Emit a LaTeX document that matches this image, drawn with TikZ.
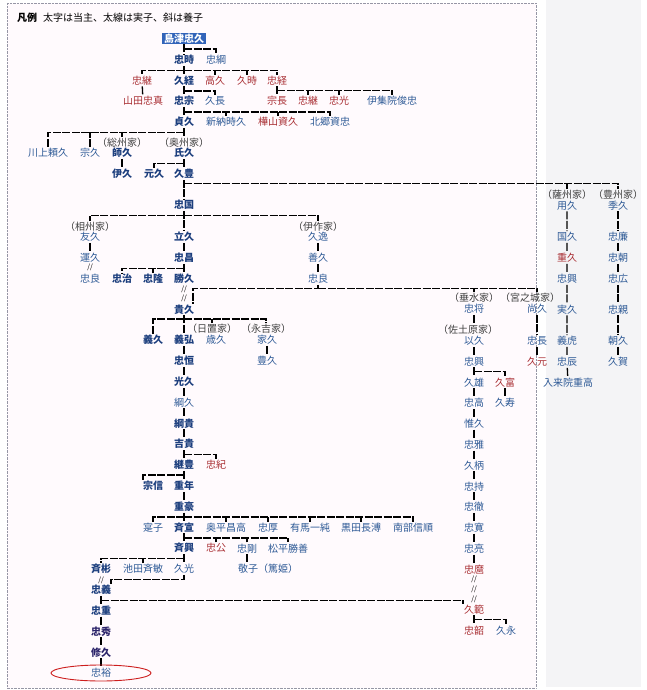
\documentclass[tikz,border=0pt]{standalone}
\usepackage{fontspec}
\setmainfont{Noto Sans CJK JP}
\definecolor{kblue}{RGB}{46,90,150}
\definecolor{kbold}{RGB}{28,62,125}
\definecolor{knavy}{RGB}{42,34,105}
\definecolor{kred}{RGB}{168,45,50}
\definecolor{kbox}{RGB}{50,100,185}
\definecolor{kpanel}{RGB}{244,244,246}
\definecolor{kframe}{RGB}{150,150,165}
\definecolor{kring}{RGB}{205,30,30}
\begin{document}
\begin{tikzpicture}[x=1pt,y=-1pt,node distance=20.8pt,
    nm/.style={inner sep=1pt,font=\fontsize{10}{10}\selectfont,text=kblue},
    hd/.style={nm,font=\fontsize{10}{10}\selectfont\bfseries,text=kbold},
    rd/.style={nm,text=kred},
    ie/.style={nm,text=black!75},
    yo/.style={inner sep=0pt,font=\fontsize{7}{7}\selectfont},
    ln/.style={line width=1.3pt,dash pattern=on 8pt off 1.5pt}]

    \useasboundingbox (0,0) rectangle (647,690);
    \fill[kpanel] (546,0) rectangle (641,687);
    \fill[white!98!magenta] (7,3) rectangle (536,688);
    \draw[kframe,densely dotted] (7,3) rectangle (536,688);

    \node[anchor=west,inner sep=0pt,font=\fontsize{10}{10}\selectfont\bfseries] (hanrei) at (17,18) {凡例};
    \node[anchor=west,inner sep=0pt,font=\fontsize{10}{10}\selectfont] (rei) at (43,18) {太字は当主、太線は実子、斜は養子};

    \node[fill=kbox,text=white,inner xsep=2pt,inner ysep=1pt,font=\fontsize{10}{10}\selectfont\bfseries] (tadahisa) at (184,38.5) {島津忠久};
    \node[hd] (tadatoki) at (184,60) {忠時};
    \node[nm] (tadatsuna) at (216,60) {忠綱};
    \node[rd] (tadatsugu) at (142,80.5) {忠継};
    \node[hd] (hisatsune) at (184,80.5) {久経};
    \node[rd] (takahisa) at (215,80.5) {高久};
    \node[rd] (hisatoki) at (247,80.5) {久時};
    \node[rd] (tadatsune) at (277,80.5) {忠経};
    \node[rd] (yamada) at (143,101) {山田忠真};
    \node[hd] (tadamune) at (184,101) {忠宗};
    \node[nm] (hisanaga) at (215,101) {久長};
    \node[rd] (munenaga) at (277,101) {宗長};
    \node[rd] (tadatsugu2) at (308,101) {忠継};
    \node[rd] (tadamitsu) at (339,101) {忠光};
    \node[nm] (ijuin) at (392,101) {伊集院俊忠};
    \node[hd] (sadahisa) at (184,122) {貞久};
    \node[nm] (niiro) at (226,122) {新納時久};
    \node[rd] (kabayama) at (278,122) {樺山資久};
    \node[nm] (hongo) at (330,122) {北郷資忠};
    \node[ie] (soshuL) at (122,142.5) {（総州家）};
    \node[ie] (oshuL) at (184,142.5) {（奥州家）};
    \node[nm] (kawakami) at (48,153) {川上頼久};
    \node[nm] (munehisa) at (90,153) {宗久};
    \node[hd] (morohisa) at (122,153) {師久};
    \node[hd] (ujihisa) at (184,153) {氏久};
    \node[hd] (korehisa) at (122,174) {伊久};
    \node[hd] (motohisa) at (154,174) {元久};
    \node[hd] (hisatoyo) at (184,174) {久豊};
    \node[hd] (tadakuni) at (184,205) {忠国};
    \node[ie] (satsuL) at (567,195) {（薩州家）};
    \node[nm] (mochihisa) at (567,205.5) {用久};
    \node[ie] (hoshuL) at (618,195) {（豊州家）};
    \node[nm] (suehisa) at (618,205.5) {季久};
    \node[ie] (soshuL2) at (90,226.5) {（相州家）};
    \node[ie] (izakuL) at (318,226.5) {（伊作家）};
    \node[nm] (tomohisa) at (90,237) {友久};
    \node[hd] (tatsuhisa) at (184,237) {立久};
    \node[nm] (hisayasu) at (318,237) {久逸};
    \node[nm] (kunihisa) at (567,237) {国久};
    \node[nm] (tadakado) at (618,237) {忠廉};
    \node[nm] (yukihisa) at (90,258) {運久};
    \node[hd] (tadamasa) at (184,258) {忠昌};
    \node[nm] (yoshihisa0) at (318,258) {善久};
    \node[rd] (shigehisa) at (567,258) {重久};
    \node[nm] (tadatomo) at (618,258) {忠朝};
    \node[nm] (tadayoshiA) at (90,279) {忠良};
    \node[hd] (tadaharu) at (122,279) {忠治};
    \node[hd] (tadataka) at (153,279) {忠隆};
    \node[hd] (katsuhisa) at (184,279) {勝久};
    \node[nm] (tadayoshiB) at (318,279) {忠良};
    \node[nm] (tadaokiS) at (567,279) {忠興};
    \node[nm] (tadahiro) at (618,279) {忠広};
    \node[ie] (tarumizuL) at (474,298) {（垂水家）};
    \node[ie] (miyanojoL) at (530,298) {（宮之城家）};
    \node[hd] (takahisa2) at (184,309.5) {貴久};
    \node[nm] (tadamasa2) at (474,309) {忠将};
    \node[nm] (naohisa) at (537,309) {尚久};
    \node[nm] (sanehisa) at (567,309.5) {実久};
    \node[nm] (tadachika) at (618,309.5) {忠親};
    \node[ie] (hiokiL) at (212,329) {（日置家）};
    \node[ie] (nagayoshiL) at (266,329) {（永吉家）};
    \node[ie] (sadowaraL) at (468,330) {（佐土原家）};
    \node[hd] (yoshihisa) at (153,340) {義久};
    \node[hd] (yoshihiro) at (184,340) {義弘};
    \node[nm] (toshihisa) at (216,340) {歳久};
    \node[nm] (iehisa) at (267,340) {家久};
    \node[nm] (yukihisa2) at (474,341) {以久};
    \node[nm] (tadanaga) at (537,341) {忠長};
    \node[nm] (yoshitora) at (567,341) {義虎};
    \node[nm] (asahisa) at (618,341) {朝久};
    \node[hd] (tadatsune2) at (184,361) {忠恒};
    \node[nm] (toyohisa) at (267,361) {豊久};
    \node[nm] (tadaokiD) at (474,361.5) {忠興};
    \node[rd] (hisamoto) at (537,362) {久元};
    \node[nm] (tadatoki2) at (567,362) {忠辰};
    \node[nm] (hisayoshi) at (618,362) {久賀};
    \node[nm] (iriki) at (568,383) {入来院重高};

    \node[hd] (mitsuhisa) [below of=tadatsune2] {光久};
    \node[nm] (tsunahisa) [below of=mitsuhisa] {綱久};
    \node[hd] (tsunataka) [below of=tsunahisa] {綱貴};
    \node[hd] (yoshitaka) [below of=tsunataka] {吉貴};
    \node[hd] (tsugutoyo) [below of=yoshitaka] {継豊};
    \node[rd] (tadanori) [right of=tsugutoyo,node distance=32pt] {忠紀};
    \node[hd] (shigetoshi) [below of=tsugutoyo] {重年};
    \node[hd] (munenobu) [left of=shigetoshi,node distance=31pt] {宗信};
    \node[hd] (shigehide) [below of=shigetoshi] {重豪};
    \node[hd] (narinobu) [below of=shigehide] {斉宣};
    \node[nm] (shigeko) [left of=narinobu,node distance=31pt] {寔子};
    \node[nm] (okudaira) at (226,527.4) {奥平昌高};
    \node[nm] (tadaatsu) at (268,527.4) {忠厚};
    \node[nm] (arima) at (310,527.4) {有馬一純};
    \node[nm] (kuroda) at (361,527.4) {黒田長溥};
    \node[nm] (nanbu) at (413,527.4) {南部信順};
    \node[hd] (narioki) [below of=narinobu] {斉興};
    \node[rd] (tadakimi) at (216,548.2) {忠公};
    \node[nm] (tadatake) at (247,548.2) {忠剛};
    \node[nm] (matsudaira) at (288,548.2) {松平勝善};
    \node[nm] (hisamitsu) [below of=narioki] {久光};
    \node[nm,anchor=west] (atsuhime) at (237,569) {敬子（篤姫）};
    \node[hd] (nariakira) at (101,569) {斉彬};
    \node[nm] (ikeda) at (143,569) {池田斉敏};
    \node[hd] (tadayoshi) [below of=nariakira] {忠義};
    \node[hd] (tadashige) [below of=tadayoshi] {忠重};
    \node[hd,text=knavy] (tadahide) [below of=tadashige] {忠秀};
    \node[hd,text=knavy] (nobuhisa) [below of=tadahide] {修久};
    \node[nm] (tadahiro3) [below of=nobuhisa] {忠裕};

    \node[nm] (hisakatsu) [below of=tadaokiD] {久雄};
    \node[rd] (hisatomi) [right of=hisakatsu,node distance=31pt] {久富};
    \node[nm] (tadataka2) [below of=hisakatsu] {忠高};
    \node[nm] (hisanaga2) [below of=hisatomi] {久寿};
    \node[nm] (korehisa2) [below of=tadataka2] {惟久};
    \node[nm] (tadamasa3) [below of=korehisa2] {忠雅};
    \node[nm] (hisamoto2) [below of=tadamasa3] {久柄};
    \node[nm] (tadamochi) [below of=hisamoto2] {忠持};
    \node[nm] (tadayuki) [below of=tadamochi] {忠徹};
    \node[nm] (tadahiro2) [below of=tadayuki] {忠寛};
    \node[nm] (tadaaki) [below of=tadahiro2] {忠亮};
    \node[rd] (tadamaro) [below of=tadaaki] {忠麿};
    \node[rd] (hisanori) [below of=tadamaro,node distance=40pt] {久範};
    \node[rd] (tadatsugu3) [below of=hisanori] {忠韶};
    \node[nm] (hisanaga3) [right of=tadatsugu3,node distance=32pt] {久永};

    \node[yo] (s1) at (90,267.5) {//};
    \node[yo] (s2) at (184,289) {//};
    \node[yo] (s3) at (184,298) {//};
    \node[yo] (s4) at (474,579) {//};
    \node[yo] (s5) at (474,589) {//};
    \node[yo] (s6) at (474,599) {//};
    \node[yo] (s7) at (101,580) {//};

    \draw[ln] (tadahisa) -- (tadatoki) -- (hisatsune) -- (tadamune) -- (sadahisa) -- (oshuL);
    \draw[ln] (ujihisa) -- (hisatoyo) -- (tadakuni) -- (tatsuhisa) -- (tadamasa) -- (katsuhisa);
    \draw[ln] (takahisa2) -- (yoshihiro) -- (tadatsune2) -- (mitsuhisa) -- (tsunahisa) -- (tsunataka) -- (yoshitaka) -- (tsugutoyo) -- (shigetoshi) -- (shigehide) -- (narinobu) -- (narioki) -- (hisamitsu);
    \draw[ln] (tadayoshi) -- (tadashige) -- (tadahide) -- (nobuhisa) -- (tadahiro3);
    \draw[ln] (tadahisa.south) ++(0,4.5) -| (tadatsuna.north);
    \draw[ln] (tadatoki.south) ++(0,4.5) coordinate (b1) -| (tadatsugu.north) (b1) -| (tadatsune.north) (takahisa.north) -- (takahisa.north |- b1) (hisatoki.north) -- (hisatoki.north |- b1);
    \draw[ln] (tadatsugu) -- (yamada);
    \draw[ln] (hisatsune.south) ++(0,4.5) -| (hisanaga.north);
    \draw[ln] (tadatsune) -- (munenaga);
    \draw[ln] (tadatsune.south) ++(0,4.5) coordinate (b2) -| (ijuin.north) (tadatsugu2.north) -- (tadatsugu2.north |- b2) (tadamitsu.north) -- (tadamitsu.north |- b2);
    \draw[ln] (tadamune.south) ++(0,5) coordinate (b3) -| (hongo.north) (niiro.north) -- (niiro.north |- b3) (kabayama.north) -- (kabayama.north |- b3);
    \draw[ln] (sadahisa.south) ++(0,4.5) coordinate (b4) -| (kawakami.north) (munehisa.north) -- (munehisa.north |- b4) (soshuL.north) -- (soshuL.north |- b4);
    \draw[ln] (morohisa) -- (korehisa);
    \draw[ln] (ujihisa.south) ++(0,4.5) -| (motohisa.north);
    \draw[ln] (hisatoyo.south) ++(0,3.5) coordinate (b5) -| (hoshuL.north) (satsuL.north) -- (satsuL.north |- b5);
    \draw[ln] (mochihisa) -- (kunihisa) -- (shigehisa) -- (tadaokiS) -- (sanehisa) -- (yoshitora) -- (tadatoki2) -- (iriki);
    \draw[ln] (suehisa) -- (tadakado) -- (tadatomo) -- (tadahiro) -- (tadachika) -- (asahisa) -- (hisayoshi);
    \draw[ln] (tadakuni.south) ++(0,4.5) coordinate (b6) -| (soshuL2.north) (b6) -| (izakuL.north);
    \draw[ln] (tomohisa) -- (yukihisa);
    \draw[ln] (hisayasu) -- (yoshihisa0) -- (tadayoshiB);
    \draw[ln] (tadamasa.south) ++(0,4.5) coordinate (b7) -| (tadaharu.north) (tadataka.north) -- (tadataka.north |- b7);
    \draw[ln] (tadayoshiB.south) -- ++(0,3.5) coordinate (b8) -| ([xshift=9pt]takahisa2.north) (b8) -| (miyanojoL.north -| naohisa) (tarumizuL.north) -- (tarumizuL.north |- b8);
    \draw[ln] (naohisa) -- (tadanaga) -- (hisamoto);
    \draw[ln] (tadamasa2.south) -- (tadamasa2.south |- sadowaraL.north);
    \draw[ln] (yukihisa2) -- (tadaokiD) -- (hisakatsu) -- (tadataka2) -- (korehisa2) -- (tadamasa3) -- (hisamoto2) -- (tadamochi) -- (tadayuki) -- (tadahiro2) -- (tadaaki) -- (tadamaro);
    \draw[ln] (tadaokiD.south) ++(0,4.5) -| (hisatomi.north);
    \draw[ln] (hisatomi) -- (hisanaga2);
    \draw[ln] (hisanori) -- (tadatsugu3);
    \draw[ln] (hisanori.south) ++(0,4.5) -| (hisanaga3.north);
    \draw[ln] (takahisa2.south) ++(0,3.5) coordinate (b9) -| (yoshihisa.north) (b9) -| (nagayoshiL.north) (hiokiL.north) -- (hiokiL.north |- b9);
    \draw[ln] (iehisa) -- (toyohisa);
    \draw[ln] (yoshitaka.south) ++(0,4.5) -| (tadanori.north);
    \draw[ln] (tsugutoyo.south) ++(0,4) -| ([xshift=-10pt]munenobu.north);
    \draw[ln] (shigehide.south) ++(0,4.5) coordinate (b10) -| (shigeko.north) (b10) -| (nanbu.north) (okudaira.north) -- (okudaira.north |- b10) (tadaatsu.north) -- (tadaatsu.north |- b10) (arima.north) -- (arima.north |- b10) (kuroda.north) -- (kuroda.north |- b10);
    \draw[ln] (narinobu.south) ++(0,4.5) coordinate (b11) -| (matsudaira.north) (tadakimi.north) -- (tadakimi.north |- b11) (tadatake.north) -- (tadatake.north |- b11);
    \draw[ln] (tadatake.south) -- (tadatake.south |- atsuhime.north);
    \draw[ln] (narioki.south) ++(0,4.5) coordinate (b12) -| (nariakira.north) (ikeda.north) -- (ikeda.north |- b12);
    \draw[ln] (hisamitsu.south) -- ++(0,4.5) -| ([xshift=10pt]tadayoshi.north);
    \draw[ln] (tadayoshi.south) ++(0,4.5) -| ([xshift=-11pt]hisanori.north);
    \draw[kring,line width=0.9pt] (tadahiro3.center) ellipse [x radius=50pt,y radius=8pt];
\end{tikzpicture}
\end{document}
